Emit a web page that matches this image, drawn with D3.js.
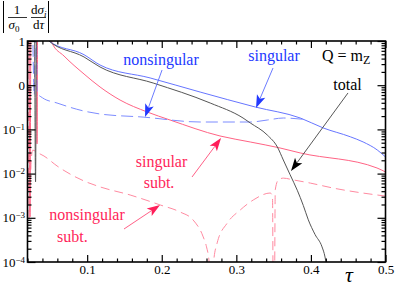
<!DOCTYPE html>
<html>
<head>
<meta charset="utf-8">
<script src="https://cdn.jsdelivr.net/npm/d3@7"></script>
<style>
body { margin: 0; background: #fff; }
svg text { font-family: 'Liberation Serif', 'Times New Roman', Times, 'DejaVu Serif', serif !important; }
</style>
</head>
<body>
<div id="chart"></div>
<script>
'use strict';
// values, |1/sigma0 dsigma_i/dtau| against tau
// (values above 10 or below 1e-4 run off the frame and get clipped)
const totalTau = [0.0296, 0.0308, 0.0320, 0.0460, 0.0475, 0.0958, 0.1173, 0.1885, 0.265, 0.309, 0.3187, 0.3415, 0.355, 0.363, 0.372, 0.3817, 0.3898, 0.3965, 0.4055, 0.4149, 0.4189, 0.4210, 0.4240];
const totalVal = [20, 0.0065, 20, 20, 10.5, 4.35, 2.58, 1.12, 0.395, 0.181, 0.14, 0.0746, 0.040, 0.0203, 0.0095, 0.0042, 0.0019, 0.0009, 0.00042, 0.00022, 0.00013, 0.00008, 0.00003];

const singTau = [0.0470, 0.0489, 0.0958, 0.1173, 0.1844, 0.2515, 0.3254, 0.3858, 0.4164, 0.4529, 0.4700, 0.4890, 0.5000];
const singVal = [14, 10, 4.9, 2.86, 1.46, 0.70, 0.321, 0.181, 0.108, 0.068, 0.052, 0.0342, 0.0238];

const nonsingTau = [0.0270, 0.0290, 0.0310, 0.0318, 0.0330, 0.0400, 0.0596, 0.0958, 0.1173, 0.175, 0.2515, 0.3187, 0.3415, 0.363, 0.392];
const nonsingVal = [20, 0.6, 20, 20, 0.667, 0.52, 0.395, 0.26, 0.223, 0.19, 0.147, 0.147, 0.163, 0.181, 0.168];

const singSubTau = [0.0222, 0.0234, 0.0246, 0.0320, 0.0328, 0.0336, 0.0500, 0.0529, 0.069, 0.0958, 0.1173, 0.1441, 0.1804, 0.2112, 0.2781, 0.3187, 0.3586, 0.3858, 0.4886, 0.5000];
const singSubVal = [20, 0.00105, 20, 20, 0.047, 20, 20, 9.0, 4.57, 1.79, 0.91, 0.462, 0.248, 0.163, 0.071, 0.0519, 0.038, 0.0293, 0.0134, 0.0109];

const nonsingSubTau = [0.0205, 0.0222, 0.0250, 0.0270, 0.0330, 0.0421, 0.0596, 0.0958, 0.1173, 0.1576, 0.198, 0.2247, 0.2421, 0.2556, 0.2600, 0.2635, 0.2660, 0.2670, 0.2695, 0.2743, 0.2878, 0.3052, 0.3227, 0.3455, 0.3485, 0.3495, 0.3510, 0.3522, 0.3563, 0.363, 0.3764, 0.3992, 0.43, 0.5];
const nonsingSubVal = [20, 0.001, 0.02, 0.034, 0.030, 0.025, 0.0149, 0.0068, 0.005, 0.00328, 0.00195, 0.00135, 0.00089, 0.00037, 0.00022, 0.0001, 0.00001, 0.00001, 0.0001, 0.00027, 0.00076, 0.0015, 0.00253, 0.00364, 0.0030, 0.00001, 0.00001, 0.0043, 0.0072, 0.0079, 0.0072, 0.0061, 0.0047, 0.0031];

const xMajor = [0.1, 0.2, 0.3, 0.4, 0.5];
const yMajor = [1e-4, 1e-3, 1e-2, 1e-1, 1, 10];

const W = 395, H = 287;
const margin = {left: 27.5, right: 9.5, top: 41, bottom: 25};
const serif = "'Liberation Serif', 'Times New Roman', Times, 'DejaVu Serif', serif";

const x = d3.scaleLinear().domain([0.02, 0.5]).range([margin.left, W - margin.right]);
const y = d3.scaleLog().domain([1e-4, 10]).range([H - margin.bottom, margin.top]);

const svg = d3.select("#chart").append("svg")
    .attr("width", W)
    .attr("height", H)
    .style("font-family", serif);

svg.append("clipPath").attr("id", "plot")
    .append("rect")
    .attr("x", x(0.02)).attr("y", y(10))
    .attr("width", x(0.5) - x(0.02)).attr("height", y(1e-4) - y(10));

const line = d3.line()
    .x(function(d) { return x(d[0]); })
    .y(function(d) { return y(d[1]); })
    .curve(d3.curveMonotoneX);

function pairs(ts, vs) {
    return ts.map(function(t, i) { return [t, vs[i]]; });
}

const curves = [
    {data: pairs(nonsingSubTau, nonsingSubVal), color: "#ff8aa0", dash: "9,5"},
    {data: pairs(singSubTau, singSubVal), color: "#ff6384", dash: null},
    {data: pairs(nonsingTau, nonsingVal), color: "#7d8cff", dash: "12,5"},
    {data: pairs(singTau, singVal), color: "#6675ff", dash: null},
    {data: pairs(totalTau, totalVal), color: "#555", dash: null}
];

const lines = svg.append("g").attr("clip-path", "url(#plot)");
curves.forEach(function(c) {
    lines.append("path")
        .datum(c.data)
        .attr("fill", "none")
        .attr("stroke", c.color)
        .attr("stroke-width", 1)
        .attr("stroke-dasharray", c.dash)
        .attr("d", line);
});

// minor ticks
const xMinor = d3.range(0.02, 0.5001, 0.02).filter(function(t) {
    return Math.abs(t * 10 - Math.round(t * 10)) > 0.01;
});
const yMinor = [];
yMajor.slice(0, -1).forEach(function(p) {
    for (let k = 2; k <= 9; k++) yMinor.push(p * k);
});

function styleAxis(g) {
    g.attr("font-family", null);
    g.select(".domain").remove();
    g.selectAll(".tick line").attr("stroke", "#000").attr("stroke-width", 1.2);
    g.selectAll("text").style("font-family", serif);
}

// bottom
svg.append("g")
    .attr("transform", "translate(0," + y(1e-4) + ")")
    .call(d3.axisBottom(x).tickValues(xMajor).tickSize(-7).tickPadding(3).tickFormat(d3.format(".1f")))
    .call(styleAxis)
    .selectAll("text").attr("font-size", 13).attr("fill", "#000");
svg.append("g")
    .attr("transform", "translate(0," + y(1e-4) + ")")
    .call(d3.axisBottom(x).tickValues(xMinor).tickSize(-3.5).tickFormat(""))
    .call(styleAxis);
// top
svg.append("g")
    .attr("transform", "translate(0," + y(10) + ")")
    .call(d3.axisTop(x).tickValues(xMajor).tickSize(-7).tickFormat(""))
    .call(styleAxis);
svg.append("g")
    .attr("transform", "translate(0," + y(10) + ")")
    .call(d3.axisTop(x).tickValues(xMinor).tickSize(-3.5).tickFormat(""))
    .call(styleAxis);

// left, labels written as 10^n by hand
svg.append("g")
    .attr("transform", "translate(" + x(0.02) + ",0)")
    .call(d3.axisLeft(y).tickValues(yMajor).tickSize(-8).tickPadding(2.5))
    .call(styleAxis)
    .selectAll("text")
    .attr("font-size", 13)
    .attr("fill", "#000")
    .each(function(d) {
        const e = Math.round(Math.log10(d));
        const t = d3.select(this).text(null);
        if (e >= 0) {
            t.text(e);
        } else {
            t.append("tspan").text("10");
            t.append("tspan").attr("dy", "-0.45em").attr("font-size", 9).text("\u2212" + (-e));
        }
    });
svg.append("g")
    .attr("transform", "translate(" + x(0.02) + ",0)")
    .call(d3.axisLeft(y).tickValues(yMinor).tickSize(-4).tickFormat(""))
    .call(styleAxis);
// right
svg.append("g")
    .attr("transform", "translate(" + x(0.5) + ",0)")
    .call(d3.axisRight(y).tickValues(yMajor).tickSize(-8).tickFormat(""))
    .call(styleAxis);
svg.append("g")
    .attr("transform", "translate(" + x(0.5) + ",0)")
    .call(d3.axisRight(y).tickValues(yMinor).tickSize(-4).tickFormat(""))
    .call(styleAxis);

// frame
svg.append("rect")
    .attr("x", x(0.02)).attr("y", y(10))
    .attr("width", x(0.5) - x(0.02)).attr("height", y(1e-4) - y(10))
    .attr("fill", "none")
    .attr("stroke", "#000")
    .attr("stroke-width", 1.6);

// tau label
svg.append("text")
    .attr("x", 349).attr("y", 282)
    .attr("text-anchor", "middle")
    .attr("font-size", 22)
    .attr("font-style", "italic")
    .style("font-family", serif)
    .text("\u03c4");

// y label |1/sigma0 dsigma_i/dtau|
const yl = svg.append("g").attr("fill", "#000").attr("font-size", 13);
yl.append("line").attr("x1", 3.5).attr("x2", 3.5).attr("y1", 1).attr("y2", 33).attr("stroke", "#000").attr("stroke-width", 1);
yl.append("line").attr("x1", 48.5).attr("x2", 48.5).attr("y1", 1).attr("y2", 33).attr("stroke", "#000").attr("stroke-width", 1);
yl.append("text").attr("x", 17).attr("y", 14).attr("text-anchor", "middle").style("font-family", serif).text("1");
yl.append("line").attr("x1", 8).attr("x2", 27).attr("y1", 17.5).attr("y2", 17.5).attr("stroke", "#000").attr("stroke-width", 0.8);
const s0 = yl.append("text").attr("x", 8.5).attr("y", 29).style("font-family", serif);
s0.append("tspan").attr("font-style", "italic").text("\u03c3");
s0.append("tspan").attr("dy", 3).attr("font-size", 9).text("0");
const ds = yl.append("text").attr("x", 31).attr("y", 14).style("font-family", serif);
ds.append("tspan").text("d");
ds.append("tspan").attr("font-style", "italic").text("\u03c3");
ds.append("tspan").attr("dy", 3).attr("font-size", 9).attr("font-style", "italic").text("i");
yl.append("line").attr("x1", 31).attr("x2", 46).attr("y1", 17.5).attr("y2", 17.5).attr("stroke", "#000").attr("stroke-width", 0.8);
const dt = yl.append("text").attr("x", 33).attr("y", 29).style("font-family", serif);
dt.append("tspan").text("d");
dt.append("tspan").attr("font-style", "italic").text("\u03c4");

// annotations
function arrow(t0, v0, t1, v1, head, shaft) {
    const x0 = x(t0), y0 = y(v0), x1 = x(t1), y1 = y(v1);
    const len = Math.hypot(x1 - x0, y1 - y0);
    const ux = (x1 - x0) / len, uy = (y1 - y0) / len;
    const L = 13, hw = 4.5;
    const bx = x1 - ux * L, by = y1 - uy * L;
    svg.append("line")
        .attr("x1", x0).attr("y1", y0).attr("x2", bx + ux * 3).attr("y2", by + uy * 3)
        .attr("stroke", shaft).attr("stroke-width", 0.9);
    svg.append("path")
        .attr("d", "M" + x1 + "," + y1 +
            "L" + (bx - uy * hw) + "," + (by + ux * hw) +
            "L" + (bx + ux * 3) + "," + (by + uy * 3) +
            "L" + (bx + uy * hw) + "," + (by - ux * hw) + "Z")
        .attr("fill", head);
}

function label(tx, ty, str, color, anchor) {
    return svg.append("text")
        .attr("x", tx).attr("y", ty)
        .attr("font-size", 16)
        .attr("fill", color)
        .attr("text-anchor", anchor || "start")
        .style("font-family", serif)
        .text(str);
}

const blue = "#2339ff", red = "#ff1f5a";

label(161, 65, "nonsingular", blue, "middle");
arrow(0.2004, 2.21, 0.1776, 0.19, blue, "#5a6cff");
label(274, 61, "singular", blue, "middle");
arrow(0.3492, 2.45, 0.3264, 0.305, blue, "#5a6cff");

const q = svg.append("text").attr("x", 322).attr("y", 61).attr("font-size", 16).attr("fill", "#000").style("font-family", serif);
q.append("tspan").text("Q = m");
q.append("tspan").attr("dy", 3).attr("font-size", 12).text("Z");

label(347.5, 90, "total", "#000", "middle");
arrow(0.4497, 0.667, 0.3733, 0.01146, "#000", "#444");

label(161.5, 167, "singular", red, "middle");
label(159, 188, "subt.", red, "middle");
arrow(0.2406, 0.00838, 0.2795, 0.0638, red, "#ff4d78");

label(87, 220, "nonsingular", red, "middle");
label(57, 242, "subt.", red, "start");
arrow(0.1494, 0.000558, 0.1977, 0.00195, red, "#ff4d78");
</script>
</body>
</html>
